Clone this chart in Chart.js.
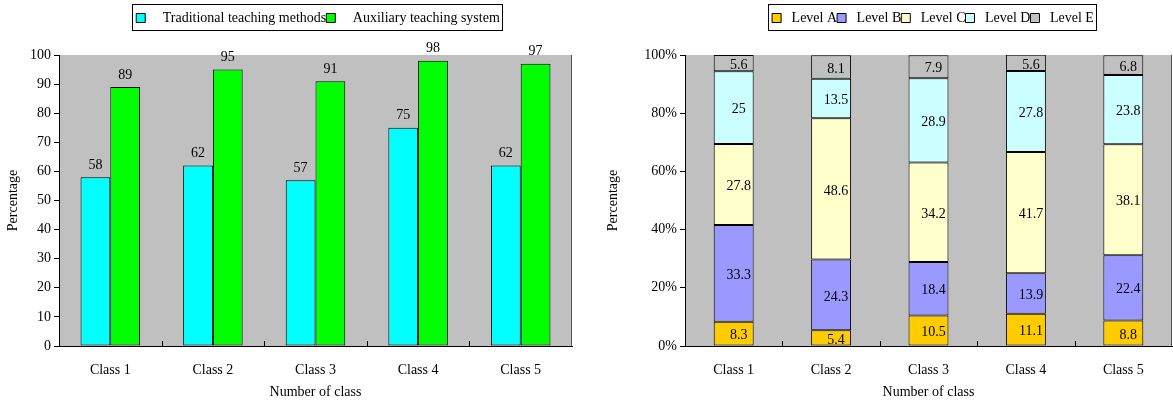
<!DOCTYPE html>
<html>
<head>
<meta charset="utf-8">
<script src="https://cdn.jsdelivr.net/npm/chart.js@4"></script>
<style>
  body { margin: 0; background: #fff; overflow: hidden; width: 1173px; height: 405px; position: relative; }
  canvas { position: absolute; top: 0; }
  #leftChart { left: 0; }
  #rightChart { left: 600px; }
</style>
</head>
<body>
<canvas id="leftChart" width="600" height="405"></canvas>
<canvas id="rightChart" width="573" height="405"></canvas>
<script>
// data
const classNames = ['Class 1', 'Class 2', 'Class 3', 'Class 4', 'Class 5'];
const traditional = [58, 62, 57, 75, 62];
const auxiliary = [89, 95, 91, 98, 97];

const levelA = [8.3, 5.4, 10.5, 11.1, 8.8];
const levelB = [33.3, 24.3, 18.4, 13.9, 22.4];
const levelC = [27.8, 48.6, 34.2, 41.7, 38.1];
const levelD = [25, 13.5, 28.9, 27.8, 23.8];
const levelE = [5.6, 8.1, 7.9, 5.6, 6.8];

const percentTicks = [0, 20, 40, 60, 80, 100];

const serif = "'Liberation Serif', 'Times New Roman', serif";
Chart.defaults.font.family = serif;
Chart.defaults.font.size = 14;
Chart.defaults.color = '#000';

// grey plot background + inward x ticks
const plotBg = {
    id: 'plotBg',
    beforeDraw(chart) {
        const a = chart.chartArea;
        const ctx = chart.ctx;
        ctx.save();
        ctx.fillStyle = '#c0c0c0';
        ctx.fillRect(a.left, a.top, a.right - a.left, a.bottom - a.top);
        ctx.strokeStyle = '#555';
        ctx.lineWidth = 1;
        ctx.beginPath();
        ctx.moveTo(a.right - 0.5, a.top);
        ctx.lineTo(a.right - 0.5, a.bottom);
        ctx.stroke();
        ctx.restore();
    },
    afterDraw(chart) {
        const a = chart.chartArea;
        const ctx = chart.ctx;
        const w = (a.right - a.left) / classNames.length;
        ctx.save();
        ctx.strokeStyle = '#000';
        ctx.lineWidth = 1;
        ctx.beginPath();
        for (let k = 1; k < classNames.length; k++) {
            const px = Math.round(a.left + k * w) + 0.5;
            ctx.moveTo(px, a.bottom);
            ctx.lineTo(px, a.bottom - 5);
        }
        ctx.stroke();
        ctx.restore();
    }
};

// legend: extra gap under it, moved to a given centre, framed
const legendBox = {
    id: 'legendBox',
    afterInit(chart, args, opts) {
        const lg = chart.legend;
        const fit = lg.fit;
        lg.fit = function () {
            fit.call(this);
            this.height += opts.gap || 0;
        };
    },
    afterLayout(chart, args, opts) {
        const lg = chart.legend;
        const shift = opts.center - (lg.left + lg.right) / 2;
        lg.left += shift;
        lg.right += shift;
        lg.legendHitBoxes.forEach(h => { h.left += shift; });
    },
    afterDraw(chart) {
        const boxes = chart.legend.legendHitBoxes;
        if (!boxes || !boxes.length) return;
        let l = Infinity, r = -Infinity, t = Infinity, b = -Infinity;
        boxes.forEach(h => {
            l = Math.min(l, h.left); r = Math.max(r, h.left + h.width);
            t = Math.min(t, h.top); b = Math.max(b, h.top + h.height);
        });
        const ctx = chart.ctx;
        ctx.save();
        ctx.strokeStyle = '#000';
        ctx.lineWidth = 1;
        ctx.strokeRect(Math.round(l - 4) + 0.5, Math.round(t - 7) + 0.5, Math.round(r - l + 6), Math.round(b - t + 12));
        ctx.restore();
    }
};

// value labels
const valueLabels = {
    id: 'valueLabels',
    afterDatasetsDraw(chart, args, opts) {
        const ctx = chart.ctx;
        ctx.save();
        ctx.font = '14px ' + serif;
        ctx.fillStyle = '#000';
        ctx.textAlign = 'center';
        chart.data.datasets.forEach((ds, i) => {
            const meta = chart.getDatasetMeta(i);
            meta.data.forEach((bar, j) => {
                const v = ds.data[j];
                if (opts.inside) {
                    ctx.textBaseline = 'middle';
                    ctx.fillText(String(v), bar.x + 5, (bar.y + bar.base) / 2 + 2);
                } else {
                    ctx.textBaseline = 'bottom';
                    ctx.fillText(String(v), bar.x, bar.y - 5);
                }
            });
        });
        ctx.restore();
    }
};

function yTitle() {
    return { display: true, text: 'Percentage', font: { size: 14 }, padding: { top: 5, bottom: 2 } };
}

function xScale(stacked) {
    return {
        stacked: stacked,
        grid: { display: false },
        border: { display: true, color: '#000', width: 1 },
        ticks: { padding: 8, font: { size: 14 } },
        title: { display: true, text: 'Number of class', font: { size: 14 }, padding: { top: 6, bottom: 0 } },
        afterFit(scale) { scale.height = 55; }
    };
}

function legendLabels(spaces) {
    return {
        boxWidth: 9, boxHeight: 9, padding: 0, font: { size: 14 },
        generateLabels(chart) {
            return Chart.defaults.plugins.legend.labels.generateLabels(chart).map(item => {
                item.text = spaces + item.text;
                return item;
            });
        }
    };
}

function barSet(label, data, color) {
    return { label: label, data: data, backgroundColor: color, borderColor: '#000', borderWidth: 1, borderSkipped: false, inflateAmount: 0 };
}

new Chart(document.getElementById('leftChart'), {
    type: 'bar',
    data: {
        labels: classNames,
        datasets: [
            barSet('Traditional teaching methods', traditional, '#00ffff'),
            barSet('Auxiliary teaching system', auxiliary, '#00ff00')
        ]
    },
    options: {
        responsive: false,
        animation: false,
        devicePixelRatio: 1,
        categoryPercentage: 0.58,
        barPercentage: 1.0,
        layout: { padding: { top: 11, right: 28, bottom: 4, left: 0 } },
        plugins: {
            legend: { position: 'top', labels: legendLabels('   ') },
            legendBox: { gap: 20, center: 318 },
            tooltip: { enabled: false },
            valueLabels: { inside: false }
        },
        scales: {
            x: xScale(false),
            y: {
                min: 0, max: 100,
                ticks: { stepSize: 10, padding: 3, font: { size: 14 } },
                grid: { drawOnChartArea: false, drawTicks: true, tickLength: 5, color: '#000' },
                border: { display: true, color: '#000', width: 1 },
                title: yTitle(),
                afterFit(scale) { scale.width = 59; }
            }
        }
    },
    plugins: [plotBg, legendBox, valueLabels]
});

new Chart(document.getElementById('rightChart'), {
    type: 'bar',
    data: {
        labels: classNames,
        datasets: [
            barSet('Level A', levelA, '#ffcc00'),
            barSet('Level B', levelB, '#9999ff'),
            barSet('Level C', levelC, '#ffffcc'),
            barSet('Level D', levelD, '#ccffff'),
            barSet('Level E', levelE, '#c0c0c0')
        ]
    },
    options: {
        responsive: false,
        animation: false,
        devicePixelRatio: 1,
        categoryPercentage: 0.41,
        barPercentage: 1.0,
        layout: { padding: { top: 11, right: 1, bottom: 4, left: 0 } },
        plugins: {
            legend: { position: 'top', labels: legendLabels(' ') },
            legendBox: { gap: 20, center: 333 },
            tooltip: { enabled: false },
            valueLabels: { inside: true }
        },
        scales: {
            x: xScale(true),
            y: {
                stacked: true,
                min: 0, max: 100,
                afterBuildTicks(scale) { scale.ticks = percentTicks.map(v => ({ value: v })); },
                ticks: { padding: 3, font: { size: 14 }, callback: v => v + '%' },
                grid: { drawOnChartArea: false, drawTicks: true, tickLength: 5, color: '#000' },
                border: { display: true, color: '#000', width: 1 },
                title: yTitle(),
                afterFit(scale) { scale.width = 85; }
            }
        }
    },
    plugins: [plotBg, legendBox, valueLabels]
});
</script>
</body>
</html>
